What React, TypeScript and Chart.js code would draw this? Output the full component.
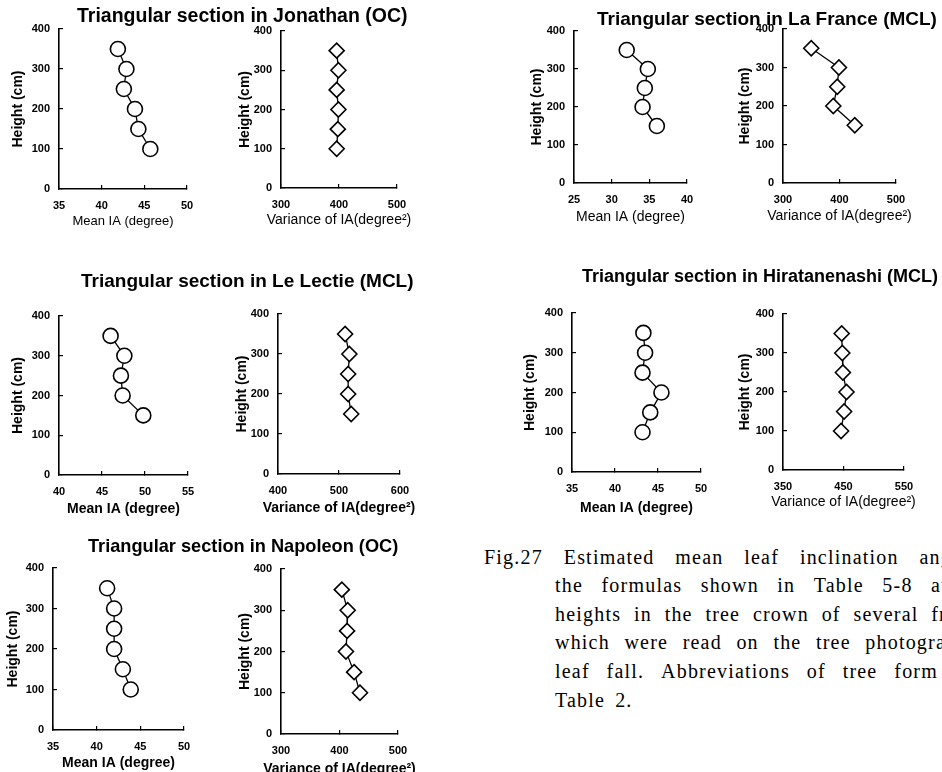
import React, { useEffect, useRef } from 'react';
import { Chart, registerables } from 'chart.js';
Chart.register(...registerables);

// ---------- data ----------
const heightTicks = [0, 100, 200, 300, 400];

const jonathanHeights = [350, 300, 250, 200, 150, 100];
const jonathanMeanIA = [41.9, 42.9, 42.6, 43.9, 44.3, 45.7];
const jonathanVarIA = [396, 399, 396, 399, 398, 396];
const jonathanMeanTicks = [35, 40, 45, 50];
const jonathanVarTicks = [300, 400, 500];

const laFranceHeights = [350, 300, 250, 200, 150];
const laFranceMeanIA = [32.0, 34.8, 34.4, 34.1, 36.0];
const laFranceVarIA = [350, 399, 396, 389, 427];
const laFranceMeanTicks = [25, 30, 35, 40];
const laFranceVarTicks = [300, 400, 500];

const leLectieHeights = [350, 300, 250, 200, 150];
const leLectieMeanIA = [46.0, 47.6, 47.2, 47.4, 49.8];
const leLectieVarIA = [510, 517, 515, 515, 520];
const leLectieMeanTicks = [40, 45, 50, 55];
const leLectieVarTicks = [400, 500, 600];

const hiratanenashiHeights = [350, 300, 250, 200, 150, 100];
const hiratanenashiMeanIA = [43.3, 43.5, 43.2, 45.4, 44.1, 43.2];
const hiratanenashiVarIA = [447, 448, 449, 455, 451, 446];
const hiratanenashiMeanTicks = [35, 40, 45, 50];
const hiratanenashiVarTicks = [350, 450, 550];

const napoleonHeights = [350, 300, 250, 200, 150, 100];
const napoleonMeanIA = [41.2, 42.0, 42.0, 42.0, 43.0, 43.9];
const napoleonVarIA = [404, 414, 413, 411, 425, 435];
const napoleonMeanTicks = [35, 40, 45, 50];
const napoleonVarTicks = [300, 400, 500];

const titles = [
  'Triangular section in Jonathan (OC)',
  'Triangular section in La France (MCL)',
  'Triangular section in Le Lectie (MCL)',
  'Triangular section in Hiratanenashi (MCL)',
  'Triangular section in Napoleon (OC)',
];
const meanLabel = 'Mean IA (degree)';
const varLabel = 'Variance of IA(degree\u00B2)';
const heightLabel = 'Height (cm)';

const captionLines = [
  'Fig.27 Estimated mean leaf inclination ang',
  'the formulas shown in Table 5-8 at',
  'heights in the tree crown of several fr',
  'which were read on the tree photogra',
  'leaf fall. Abbreviations of tree form',
  'Table 2.',
];

// ---------- layout ----------
const SANS = '"Liberation Sans", Arial, sans-serif';
const SERIF = '"Liberation Serif", "DejaVu Serif", serif';

type PanelDef = {
  left: number; right: number; top: number; bottom: number;
  xs: number[]; ys: number[]; xTicks: number[];
  marker: 'circle' | 'rectRot';
  xTitle: string; xTitleSize: number; xTitleWeight: string;
  xTitleOff: number; yTitleOff: number;
};

const panels: PanelDef[] = [
  { left: 59, right: 187, top: 29, bottom: 189, xs: jonathanMeanIA, ys: jonathanHeights, xTicks: jonathanMeanTicks, marker: 'circle', xTitle: meanLabel, xTitleSize: 13, xTitleWeight: 'normal', xTitleOff: 32, yTitleOff: 41 },
  { left: 281, right: 397, top: 31, bottom: 188, xs: jonathanVarIA, ys: jonathanHeights, xTicks: jonathanVarTicks, marker: 'rectRot', xTitle: varLabel, xTitleSize: 14, xTitleWeight: 'normal', xTitleOff: 32, yTitleOff: 36 },
  { left: 574, right: 687, top: 31, bottom: 183, xs: laFranceMeanIA, ys: laFranceHeights, xTicks: laFranceMeanTicks, marker: 'circle', xTitle: meanLabel, xTitleSize: 14, xTitleWeight: 'normal', xTitleOff: 34, yTitleOff: 37 },
  { left: 783, right: 896, top: 29, bottom: 183, xs: laFranceVarIA, ys: laFranceHeights, xTicks: laFranceVarTicks, marker: 'rectRot', xTitle: varLabel, xTitleSize: 14, xTitleWeight: 'normal', xTitleOff: 33, yTitleOff: 38 },
  { left: 59, right: 188, top: 316, bottom: 475, xs: leLectieMeanIA, ys: leLectieHeights, xTicks: leLectieMeanTicks, marker: 'circle', xTitle: meanLabel, xTitleSize: 14, xTitleWeight: 'bold', xTitleOff: 34, yTitleOff: 41 },
  { left: 278, right: 400, top: 314, bottom: 474, xs: leLectieVarIA, ys: leLectieHeights, xTicks: leLectieVarTicks, marker: 'rectRot', xTitle: varLabel, xTitleSize: 14, xTitleWeight: 'bold', xTitleOff: 34, yTitleOff: 36 },
  { left: 572, right: 701, top: 313, bottom: 472, xs: hiratanenashiMeanIA, ys: hiratanenashiHeights, xTicks: hiratanenashiMeanTicks, marker: 'circle', xTitle: meanLabel, xTitleSize: 14, xTitleWeight: 'bold', xTitleOff: 36, yTitleOff: 42 },
  { left: 783, right: 904, top: 314, bottom: 470, xs: hiratanenashiVarIA, ys: hiratanenashiHeights, xTicks: hiratanenashiVarTicks, marker: 'rectRot', xTitle: varLabel, xTitleSize: 14, xTitleWeight: 'normal', xTitleOff: 32, yTitleOff: 38 },
  { left: 53, right: 184, top: 568, bottom: 730, xs: napoleonMeanIA, ys: napoleonHeights, xTicks: napoleonMeanTicks, marker: 'circle', xTitle: meanLabel, xTitleSize: 14, xTitleWeight: 'bold', xTitleOff: 33, yTitleOff: 40 },
  { left: 281, right: 398, top: 569, bottom: 734, xs: napoleonVarIA, ys: napoleonHeights, xTicks: napoleonVarTicks, marker: 'rectRot', xTitle: varLabel, xTitleSize: 14, xTitleWeight: 'bold', xTitleOff: 35, yTitleOff: 36 },
];

const titlePos = [
  { left: 77, cy: 15, size: 19.5 },
  { left: 597, cy: 19, size: 19 },
  { left: 81, cy: 281, size: 19 },
  { left: 582, cy: 276, size: 18 },
  { left: 88, cy: 546, size: 18.2 },
];

const captionPos = [
  { left: 484, right: 952, cy: 557 },
  { left: 555, right: 948, cy: 585 },
  { left: 555, right: 947, cy: 614 },
  { left: 555, right: 946, cy: 642 },
  { left: 555, right: 938, cy: 671 },
  { left: 555, right: 0, cy: 700 },
];

const LY = 58, LX = 46, PT = 24, PR = 28, TL = -4;

const xTitlePlugin = {
  id: 'xTitleFree',
  afterDraw(chart: any, _args: any, opts: any) {
    const { ctx, chartArea } = chart;
    ctx.save();
    ctx.font = `${opts.weight} ${opts.size}px ${SANS}`;
    ctx.fillStyle = '#000';
    ctx.textAlign = 'center';
    ctx.textBaseline = 'middle';
    ctx.fillText(opts.text, (chartArea.left + chartArea.right) / 2, chartArea.bottom + opts.off);
    ctx.restore();
  },
};

function Panel({ p }: { p: PanelDef }) {
  const ref = useRef<HTMLCanvasElement>(null);
  const W = p.right - p.left + LY + PR;
  const H = p.bottom - p.top + PT + LX;
  useEffect(() => {
    const tickFont = { family: SANS, size: 11, weight: 'bold' as const };
    const yLh = 14 * 1.2;
    const chart = new Chart(ref.current as HTMLCanvasElement, {
      type: 'scatter',
      plugins: [xTitlePlugin],
      data: {
        datasets: [{
          data: p.ys.map((h, i) => ({ x: p.xs[i], y: h })),
          showLine: true,
          borderColor: '#000',
          borderWidth: 1.3,
          pointStyle: p.marker,
          pointRadius: p.marker === 'circle' ? 7.5 : 7.5,
          pointBackgroundColor: '#fff',
          pointBorderColor: '#000',
          pointBorderWidth: 1.6,
        }],
      },
      options: {
        responsive: false,
        animation: false,
        events: [],
        layout: { padding: { left: 0, top: PT, right: PR, bottom: 0 } },
        plugins: {
          legend: { display: false },
          tooltip: { enabled: false },
          xTitleFree: { text: p.xTitle, size: p.xTitleSize, weight: p.xTitleWeight, off: p.xTitleOff },
        } as any,
        scales: {
          x: {
            type: 'linear',
            min: p.xTicks[0],
            max: p.xTicks[p.xTicks.length - 1],
            afterFit: (s: any) => { s.height = LX; },
            ticks: { stepSize: p.xTicks[1] - p.xTicks[0], autoSkip: false, maxRotation: 0, padding: 10.5 - TL, font: tickFont, color: '#000' },
            grid: { drawOnChartArea: false, tickLength: TL, color: '#000', lineWidth: 1.2 },
            border: { color: '#000', width: 1.6 },
            title: { display: false },
          },
          y: {
            type: 'linear',
            min: heightTicks[0],
            max: heightTicks[heightTicks.length - 1],
            afterFit: (s: any) => { s.width = LY; },
            ticks: { stepSize: heightTicks[1] - heightTicks[0], autoSkip: false, padding: 9 - TL, font: tickFont, color: '#000' },
            grid: { drawOnChartArea: false, tickLength: TL, color: '#000', lineWidth: 1.2 },
            border: { color: '#000', width: 1.6 },
            title: {
              display: true, text: heightLabel, color: '#000',
              font: { family: SANS, size: 14, weight: 'bold' },
              padding: { top: LY - p.yTitleOff - yLh / 2, bottom: 0 },
            },
          },
        },
      },
    });
    return () => chart.destroy();
  }, []);
  return (
    <canvas
      ref={ref}
      width={W}
      height={H}
      style={{ position: 'absolute', left: p.left - LY, top: p.top - PT, width: W, height: H }}
    />
  );
}

export default function App() {
  return (
    <div style={{ position: 'fixed', left: 0, top: 0, width: 942, height: 772, overflow: 'hidden', background: '#fff' }}>
      {panels.map((p, i) => <Panel key={i} p={p} />)}
      {titles.map((t, i) => (
        <div key={'t' + i} style={{
          position: 'absolute', left: titlePos[i].left, top: titlePos[i].cy - 12, height: 24, lineHeight: '24px',
          fontFamily: SANS, fontWeight: 'bold', fontSize: titlePos[i].size, color: '#000', whiteSpace: 'nowrap', zIndex: 2,
        }}>{t}</div>
      ))}
      {captionLines.map((line, i) => {
        const c = captionPos[i];
        const words = line.split(' ');
        const justify = c.right > 0;
        return (
          <div key={'c' + i} style={{
            position: 'absolute', left: c.left, top: c.cy - 14, height: 28, lineHeight: '28px',
            width: justify ? c.right - c.left : undefined,
            display: 'flex', justifyContent: justify ? 'space-between' : 'flex-start', gap: justify ? 0 : 10,
            fontFamily: SERIF, fontSize: 20, letterSpacing: '1.2px', color: '#000', whiteSpace: 'nowrap',
          }}>
            {words.map((w, j) => <span key={j}>{w}</span>)}
          </div>
        );
      })}
    </div>
  );
}
